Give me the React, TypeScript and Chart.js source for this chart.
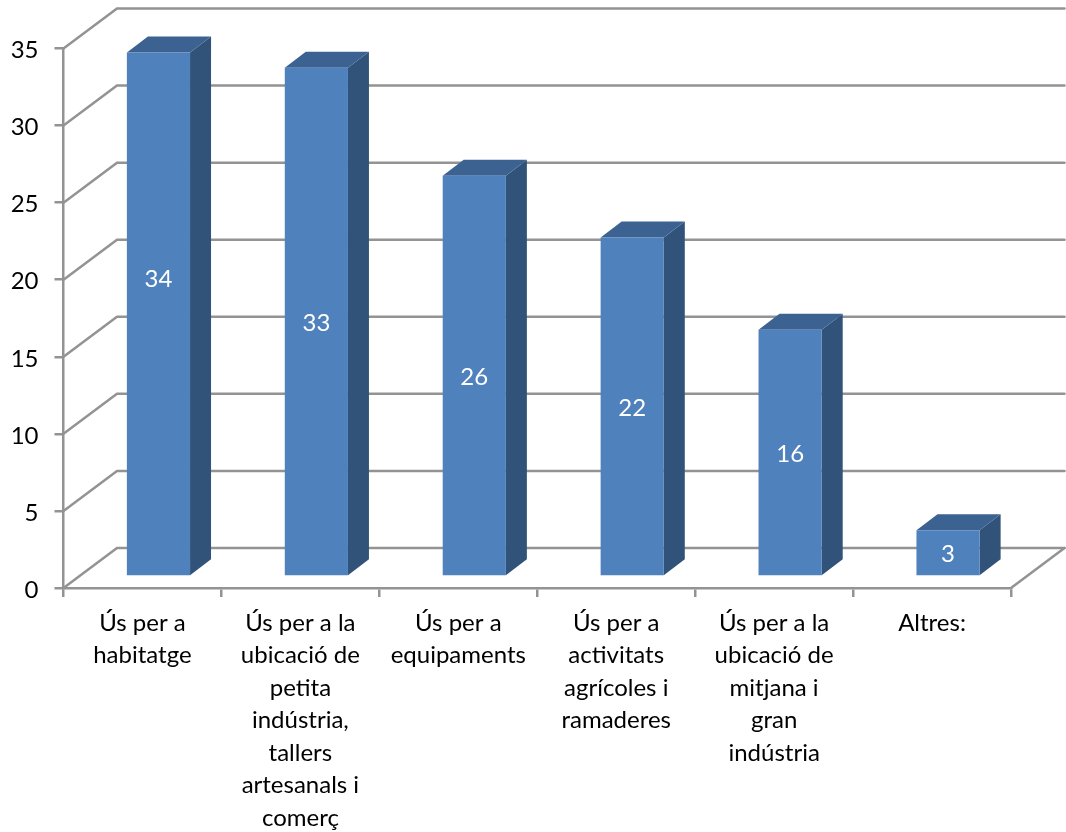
import React, { useEffect, useRef } from "react";
import { Chart, registerables } from "chart.js";

Chart.register(...registerables);

const categories: string[][] = [
  ["Ús per a", "habitatge"],
  ["Ús per a la", "ubicació de", "petita", "indústria,", "tallers", "artesanals i", "comerç"],
  ["Ús per a", "equipaments"],
  ["Ús per a", "activitats", "agrícoles i", "ramaderes"],
  ["Ús per a la", "ubicació de", "mitjana i", "gran", "indústria"],
  ["Altres:"],
];
const values: number[] = [34, 33, 26, 22, 16, 3];
const yTicks: number[] = [0, 5, 10, 15, 20, 25, 30, 35];

const FONT = "Lato";
const FONT_SIZE = 24;
const GRID = "#939393";
const LINE = 2.5;
const FRONT = "#4F81BD";
const TOP = "#3C6291";
const SIDE = "#325379";
const WALL_DX = 53.5;
const WALL_DY = 40;
const BAR_DX = 16;
const BAR_DY = 11.5;
const DEPTH_DX = 21;
const DEPTH_DY = 16;
// The first data label sits higher than the bar centre in the original.
const labelShift = [-35, 2, 2, 2, 2, 2];

const poly = (ctx: CanvasRenderingContext2D, pts: number[][], fill: string) => {
  ctx.beginPath();
  pts.forEach(([x, y], i) => (i ? ctx.lineTo(x, y) : ctx.moveTo(x, y)));
  ctx.closePath();
  ctx.fillStyle = fill;
  ctx.fill();
};

const box3d = {
  id: "box3d",
  beforeDatasetsDraw(chart: any) {
    const { ctx, scales, chartArea } = chart;
    const yS = scales.y;
    ctx.save();
    ctx.strokeStyle = GRID;
    ctx.lineWidth = LINE;
    ctx.lineCap = "round";
    yTicks.forEach((v) => {
      const py = yS.getPixelForValue(v);
      ctx.beginPath();
      ctx.moveTo(chartArea.left, py);
      ctx.lineTo(chartArea.left + WALL_DX, py - WALL_DY);
      ctx.lineTo(chartArea.right + WALL_DX, py - WALL_DY);
      ctx.stroke();
    });
    const base = yS.getPixelForValue(0);
    ctx.beginPath();
    ctx.moveTo(chartArea.right, base);
    ctx.lineTo(chartArea.right + WALL_DX, base - WALL_DY);
    ctx.stroke();
    ctx.restore();

    ctx.save();
    ctx.translate(BAR_DX, -BAR_DY);
    chart.getDatasetMeta(0).data.forEach((bar: any) => {
      const l = bar.x - bar.width / 2;
      const r = bar.x + bar.width / 2;
      poly(ctx, [[r, bar.y], [r + DEPTH_DX, bar.y - DEPTH_DY], [r + DEPTH_DX, bar.base - DEPTH_DY], [r, bar.base]], SIDE);
      poly(ctx, [[l, bar.y], [l + DEPTH_DX, bar.y - DEPTH_DY], [r + DEPTH_DX, bar.y - DEPTH_DY], [r, bar.y]], TOP);
    });
    // stays translated so that the library draws the front faces in the box
  },
  afterDatasetsDraw(chart: any) {
    const { ctx } = chart;
    ctx.fillStyle = "#ffffff";
    ctx.font = `${FONT_SIZE}px ${FONT}`;
    ctx.textAlign = "center";
    ctx.textBaseline = "middle";
    chart.getDatasetMeta(0).data.forEach((bar: any, i: number) => {
      ctx.fillText(String(values[i]), bar.x, (bar.y + bar.base) / 2 + labelShift[i]);
    });
    ctx.restore();
  },
};

export default function App() {
  const ref = useRef<HTMLCanvasElement | null>(null);
  useEffect(() => {
    if (!ref.current) return;
    const chart = new Chart(ref.current, {
      type: "bar",
      data: {
        labels: categories as any,
        datasets: [
          {
            data: values,
            backgroundColor: FRONT,
            borderWidth: 0,
            categoryPercentage: 1,
            barPercentage: 0.4,
          },
        ],
      },
      plugins: [box3d as any],
      options: {
        animation: false,
        responsive: false,
        layout: { padding: { top: 48.5, right: 55, left: 0, bottom: 0 } },
        plugins: { legend: { display: false }, tooltip: { enabled: false }, title: { display: false } },
        scales: {
          x: {
            afterFit: (s: any) => {
              s.height = 244;
            },
            border: { color: GRID, width: LINE },
            grid: { drawOnChartArea: false, color: GRID, lineWidth: LINE, tickLength: 9 },
            ticks: {
              autoSkip: false,
              maxRotation: 0,
              minRotation: 0,
              padding: 10,
              color: "#000000",
              font: { family: FONT, size: FONT_SIZE, lineHeight: 1.354 },
            },
          },
          y: {
            min: 0,
            max: 35,
            afterFit: (s: any) => {
              s.width = 63.5;
            },
            border: { color: GRID, width: LINE },
            grid: { drawOnChartArea: false, color: GRID, lineWidth: LINE, tickLength: 9 },
            ticks: {
              stepSize: 5,
              padding: 16,
              labelOffset: 2,
              color: "#000000",
              font: { family: FONT, size: FONT_SIZE },
            },
          },
        },
      },
    });
    return () => chart.destroy();
  }, []);
  return (
    <canvas
      ref={ref}
      width={1066}
      height={832}
      style={{ position: "fixed", left: 0, top: 0, display: "block" }}
    />
  );
}
